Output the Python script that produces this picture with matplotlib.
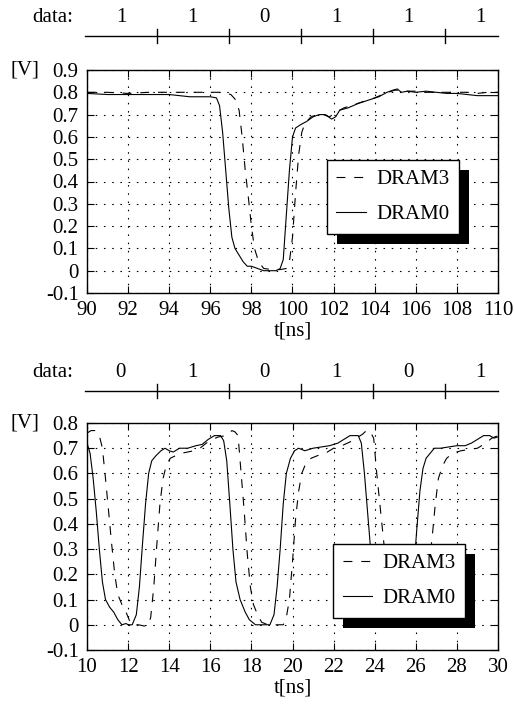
import matplotlib
matplotlib.use("Agg")
import matplotlib.pyplot as plt
import matplotlib.transforms as mtrans
from matplotlib.patches import Rectangle
import numpy as np

plt.rcParams['font.family'] = ['Liberation Serif', 'DejaVu Serif']
plt.rcParams['font.size'] = 15

# ---------------- data ----------------
# top panel (90-110 ns)
top_t0 = [90.0, 91.0, 92.0, 93.0, 94.0, 94.5, 95.0, 95.5, 96.0, 96.3, 96.45, 96.6, 96.75, 96.9,
          97.05, 97.2, 97.4, 97.6, 97.8, 98.0, 98.3, 98.6, 98.9, 99.2, 99.4, 99.55, 99.7, 99.85,
          100.0, 100.15, 100.4, 100.7, 101.0, 101.3, 101.6, 101.9, 102.1, 102.3, 102.7, 103.2,
          103.7, 104.2, 104.6, 104.9, 105.1, 105.3, 105.6, 106.0, 106.5, 107.0, 107.5, 108.0,
          108.5, 109.0, 109.5, 110.0]
top_v0 = [0.795, 0.79, 0.79, 0.79, 0.79, 0.785, 0.78, 0.78, 0.78, 0.775, 0.74, 0.62, 0.45, 0.28,
          0.15, 0.10, 0.07, 0.04, 0.02, 0.02, 0.01, 0.0, 0.0, 0.0, 0.01, 0.05, 0.25, 0.45,
          0.60, 0.64, 0.655, 0.67, 0.69, 0.70, 0.70, 0.68, 0.69, 0.72, 0.73, 0.75,
          0.765, 0.78, 0.80, 0.81, 0.815, 0.80, 0.805, 0.80, 0.805, 0.80, 0.795, 0.795,
          0.79, 0.785, 0.785, 0.785]
top_t3 = [90.0, 91.0, 92.0, 93.0, 94.0, 95.0, 96.0, 96.5, 97.0, 97.2, 97.4, 97.55, 97.7, 97.85,
          98.0, 98.15, 98.35, 98.6, 99.0, 99.4, 99.7, 99.85, 100.0, 100.15, 100.3, 100.45, 100.6,
          100.9, 101.2, 101.5, 101.8, 102.1, 102.5, 103.0, 103.5, 104.0, 104.5, 105.0, 105.5,
          106.0, 106.5, 107.0, 107.5, 108.0, 108.5, 109.0, 109.5, 110.0]
top_v3 = [0.80, 0.80, 0.795, 0.80, 0.80, 0.80, 0.80, 0.80, 0.79, 0.77, 0.72, 0.60, 0.45, 0.33,
          0.20, 0.10, 0.04, 0.01, 0.005, 0.005, 0.01, 0.04, 0.15, 0.35, 0.52, 0.62, 0.66,
          0.69, 0.70, 0.70, 0.69, 0.71, 0.73, 0.745, 0.76, 0.775, 0.795, 0.81, 0.805,
          0.805, 0.80, 0.80, 0.80, 0.80, 0.80, 0.795, 0.80, 0.80]

# bottom panel (10-30 ns)
bot_t0 = [10.0, 10.15, 10.3, 10.45, 10.6, 10.75, 10.9, 11.1, 11.3, 11.5, 11.7, 11.9, 12.0, 12.2,
          12.4, 12.55, 12.7, 12.85, 13.0, 13.15, 13.35, 13.6, 13.8, 14.0, 14.2, 14.5, 14.9, 15.3,
          15.6, 15.9, 16.2, 16.5, 16.65, 16.8, 16.95, 17.1, 17.25, 17.45, 17.7, 17.9, 18.2, 18.5,
          18.9, 19.1, 19.25, 19.4, 19.55, 19.7, 19.9, 20.1, 20.3, 20.6, 21.0, 21.4, 21.8, 22.2,
          22.5, 22.8, 23.2, 23.35, 23.5, 23.65, 23.8, 23.95, 24.15, 24.4, 24.8, 25.3, 25.6, 25.75,
          25.9, 26.05, 26.2, 26.35, 26.5, 26.7, 26.9, 27.2, 27.6, 28.0, 28.4, 28.7, 29.0, 29.3,
          29.6, 29.8, 30.0]
bot_v0 = [0.72, 0.68, 0.58, 0.45, 0.30, 0.17, 0.10, 0.07, 0.05, 0.02, 0.0, 0.005, 0.0, 0.0,
          0.04, 0.15, 0.32, 0.48, 0.60, 0.65, 0.67, 0.69, 0.70, 0.69, 0.685, 0.70, 0.70, 0.71,
          0.715, 0.735, 0.75, 0.75, 0.73, 0.65, 0.48, 0.30, 0.17, 0.10, 0.05, 0.02, 0.0, 0.0,
          0.0, 0.04, 0.15, 0.30, 0.48, 0.60, 0.66, 0.69, 0.70, 0.69, 0.70, 0.705, 0.71, 0.72,
          0.735, 0.75, 0.75, 0.72, 0.60, 0.45, 0.30, 0.15, 0.06, 0.02, 0.0, 0.0, 0.02, 0.10,
          0.22, 0.38, 0.53, 0.62, 0.66, 0.68, 0.70, 0.70, 0.705, 0.71, 0.71, 0.72, 0.735, 0.75,
          0.75, 0.74, 0.745]
bot_t3 = [10.0, 10.2, 10.4, 10.6, 10.75, 10.9, 11.05, 11.2, 11.35, 11.5, 11.7, 11.9, 12.05, 12.2,
          12.5, 12.8, 13.0, 13.1, 13.25, 13.4, 13.55, 13.7, 13.85, 14.05, 14.3, 14.6, 14.9, 15.2,
          15.5, 15.8, 16.1, 16.4, 16.8, 17.05, 17.2, 17.35, 17.5, 17.65, 17.8, 17.95, 18.1, 18.3,
          18.5, 18.8, 19.2, 19.55, 19.7, 19.85, 20.0, 20.15, 20.3, 20.45, 20.65, 20.9, 21.2, 21.6,
          22.0, 22.4, 22.8, 23.1, 23.4, 23.6, 23.75, 23.95, 24.1, 24.35, 24.5, 24.7, 24.9, 25.2,
          25.6, 26.0, 26.2, 26.4, 26.6, 26.8, 26.95, 27.1, 27.3, 27.5, 27.8, 28.2, 28.6, 29.0,
          29.4, 29.7, 30.0]
bot_v3 = [0.76, 0.77, 0.77, 0.75, 0.70, 0.58, 0.45, 0.32, 0.20, 0.12, 0.08, 0.05, 0.02, 0.0,
          0.0, -0.005, 0.0, 0.03, 0.15, 0.32, 0.48, 0.58, 0.63, 0.66, 0.67, 0.68, 0.685, 0.69,
          0.70, 0.72, 0.735, 0.745, 0.75, 0.77, 0.765, 0.75, 0.60, 0.45, 0.28, 0.15, 0.08, 0.04,
          0.01, 0.0, 0.0, 0.0, 0.03, 0.10, 0.25, 0.42, 0.53, 0.60, 0.64, 0.66, 0.67, 0.68,
          0.70, 0.71, 0.725, 0.74, 0.755, 0.77, 0.77, 0.74, 0.60, 0.40, 0.28, 0.15, 0.06, 0.01,
          0.0, 0.0, 0.01, 0.08, 0.20, 0.35, 0.48, 0.58, 0.63, 0.66, 0.68, 0.69, 0.695, 0.70,
          0.72, 0.74, 0.75]

top_bits = ['1', '1', '0', '1', '1', '1']
top_bounds = [89.9, 93.4, 96.9, 100.4, 103.9, 107.4, 110.0]
bot_bits = ['0', '1', '0', '1', '0', '1']
bot_bounds = [9.9, 13.4, 16.9, 20.4, 23.9, 27.4, 30.0]

series_labels = ['DRAM3', 'DRAM0']
x_label = 't[ns]'
y_unit = '[V]'

# ---------------- layout ----------------
W, H = 516, 706
fig = plt.figure(figsize=(W / 100, H / 100), dpi=100)
FS = 15


def rect(left, top, right, bottom):
    return [left / W, 1 - bottom / H, (right - left) / W, (bottom - top) / H]


def timeline(top_px, xlim, bounds, bits):
    tax = fig.add_axes(rect(87, top_px, 498, top_px + 50))
    tax.set_xlim(*xlim)
    tax.set_ylim(50, 0)
    tax.axis('off')
    tax.plot([bounds[0], bounds[-1]], [36, 36], color='black', lw=1.0, clip_on=False)
    for b in bounds[1:-1]:
        tax.plot([b, b], [29, 43], color='black', lw=1.0, clip_on=False)
    period = bounds[2] - bounds[1]
    for i, bit in enumerate(bits):
        c = bounds[i + 1] - period / 2 if i < len(bits) - 1 else bounds[i] + period / 2
        tax.text(c, 18, bit, ha='center', va='center', fontsize=FS, clip_on=False)
    tax.text(-0.083, 18, 'data:', ha='center', va='center', fontsize=FS,
             transform=mtrans.blended_transform_factory(tax.transAxes, tax.transData))


def panel(box, xlim, ylim, yticks, t0, v0, t3, v3, legend_anchor):
    ax = fig.add_axes(rect(*box))
    ax.plot(t3, v3, color='black', lw=0.8, dashes=(8, 8), label=series_labels[0])
    ax.plot(t0, v0, color='black', lw=0.8, label=series_labels[1])
    ax.set_xlim(*xlim)
    ax.set_ylim(*ylim)
    ax.set_xticks(np.arange(xlim[0], xlim[1] + 0.1, 2))
    ax.set_yticks(yticks)
    ax.set_yticklabels(['0' if abs(v) < 1e-9 else f'{v:.1f}' for v in yticks])
    ax.tick_params(direction='in', top=True, right=True, length=5, width=0.8,
                   labelsize=FS, pad=6)
    for s in ax.spines.values():
        s.set_linewidth(1.0)
    ax.grid(True, color='black', lw=0.8, linestyle=(0, (1.4, 6)))
    ax.set_xlabel(x_label, fontsize=FS, labelpad=1)
    ax.text(-0.15, yticks[-1], y_unit, ha='center', va='center', fontsize=FS,
            transform=mtrans.blended_transform_factory(ax.transAxes, ax.transData))
    leg = ax.legend(loc='upper left', bbox_to_anchor=legend_anchor, borderaxespad=0,
                    fancybox=False, edgecolor='black', framealpha=1, handlelength=1.4,
                    handletextpad=0.5, labelspacing=0.75, borderpad=0.45, fontsize=FS)
    leg.get_frame().set_linewidth(1.0)
    leg.set_zorder(10)
    return ax, leg


ax1, leg1 = panel((87, 70, 498, 293), (90, 110), (-0.1, 0.9),
                  [-0.1, 0, 0.1, 0.2, 0.3, 0.4, 0.5, 0.6, 0.7, 0.8, 0.9],
                  top_t0, top_v0, top_t3, top_v3, (0.584, 0.596))
ax2, leg2 = panel((87, 423, 498, 650), (10, 30), (-0.1, 0.8),
                  [-0.1, 0, 0.1, 0.2, 0.3, 0.4, 0.5, 0.6, 0.7, 0.8],
                  bot_t0, bot_v0, bot_t3, bot_v3, (0.599, 0.467))

timeline(0, (90, 110), top_bounds, top_bits)
timeline(355, (10, 30), bot_bounds, bot_bits)

# shadows behind legends
fig.canvas.draw()
for ax, leg in [(ax1, leg1), (ax2, leg2)]:
    bb = leg.get_window_extent()
    sh = Rectangle((bb.x0 + 10, bb.y0 - 10), bb.width, bb.height,
                   transform=None, facecolor='black', edgecolor='none', zorder=9)
    ax.add_artist(sh)

fig.savefig('out.png', dpi=100)
